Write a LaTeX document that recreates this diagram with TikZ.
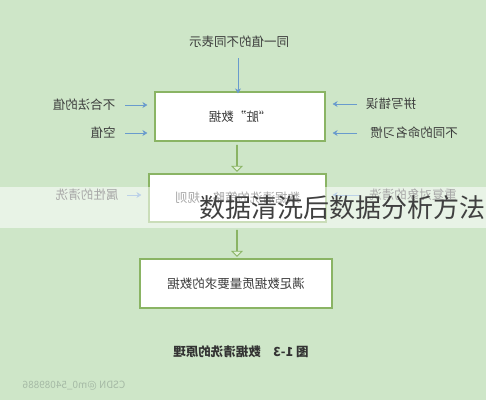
\documentclass[tikz,border=0pt]{standalone}
\usepackage{fontspec}
\newfontfamily\cjk{Noto Sans CJK SC}
\usetikzlibrary{arrows.meta,shapes.arrows,positioning}

\definecolor{bggreen}{RGB}{206,230,200}
\definecolor{boxgreen}{RGB}{138,180,100}
\definecolor{arrowblue}{RGB}{105,155,205}
\definecolor{txtgray}{RGB}{60,60,60}
\definecolor{holfill}{RGB}{225,242,215}
\definecolor{markgray}{RGB}{165,185,165}

% the scan is mirrored, so every printed text is mirrored too
\newcommand{\mirtext}[1]{\reflectbox{#1}}

\tikzset{
  lbl/.style={font=\cjk\fontsize{12.5}{14}\selectfont, text=txtgray, inner sep=0pt},
  box/.style={draw=boxgreen, fill=white, line width=1.2pt, inner sep=0pt,
    font=\cjk\fontsize{12.5}{14}\selectfont, text=txtgray},
  inarrow/.style={-{Stealth[length=5pt,width=6pt]}, arrowblue, line width=1pt},
  holarrow/.style={single arrow, draw=boxgreen, fill=holfill, line width=0.8pt,
    shape border rotate=270, minimum width=9pt, minimum height=26pt,
    single arrow head extend=4.5pt, single arrow tip angle=90, inner sep=0pt}
}

\begin{document}
\begin{tikzpicture}[x=1pt,y=-1pt]
  % background
  \fill[bggreen] (0,0) rectangle (486,400);
  \useasboundingbox (0,0) rectangle (486,400);

  % top input
  \node[lbl] (same) at (239,42) {\mirtext{同一值的不同表示}};
  \coordinate (sametop) at (238,58);

  % boxes
  \node[box, minimum width=170pt, minimum height=49pt] (dirty) at (240,116.5) {\mirtext{“脏”数据}};
  \node[box, minimum width=177pt, minimum height=48pt] (rule) at (237.5,198) {\mirtext{数据清洗的策略、规则}};
  \node[box, minimum width=192pt, minimum height=49pt] (good) at (236,283.5) {\mirtext{满足数据质量要求的数据}};

  \draw[inarrow] (sametop) -- ([yshift=-2pt]dirty.north -| sametop);

  % left inputs
  \node[lbl] (illegal) at (84,105) {\mirtext{不合法的值}};
  \node[lbl] (empty) at (103,133) {\mirtext{空值}};
  \node[lbl] (attr) at (87,195) {\mirtext{属性的清洗}};
  \coordinate (illegalend) at (125,105);
  \coordinate (emptyend) at (125,133);
  \coordinate (attrend) at (127,195);
  \draw[inarrow, shorten >=7pt] (illegalend) -- (illegalend -| dirty.west);
  \draw[inarrow, shorten >=7pt] (emptyend) -- (emptyend -| dirty.west);
  \draw[inarrow, shorten >=7pt] (attrend) -- (attrend -| rule.west);

  % right inputs
  \node[lbl] (spell) at (391,104) {\mirtext{拼写错误}};
  \node[lbl] (naming) at (414,133) {\mirtext{不同的命名习惯}};
  \node[lbl] (dup) at (413,195) {\mirtext{重复对象的清洗}};
  \coordinate (spellend) at (357,104);
  \coordinate (namingend) at (357,133);
  \coordinate (dupend) at (360,195);
  \draw[inarrow, shorten >=7pt] (spellend) -- (spellend -| dirty.east);
  \draw[inarrow, shorten >=7pt] (namingend) -- (namingend -| dirty.east);
  \draw[inarrow, shorten >=6pt] (dupend) -- (dupend -| rule.east);

  % hollow arrows between boxes
  \node[holarrow] (step1) at (237,158) {};
  \node[holarrow] (step2) at (237,243) {};

  % caption and mark
  \node[lbl, font=\cjk\bfseries\fontsize{12.5}{14}\selectfont, text=black!80] (caption) at (241,352) {\mirtext{图 1-3\quad 数据清洗的原理}};
  \node[lbl, font=\cjk\fontsize{10}{12}\selectfont, text=markgray] (mark) at (74,386) {\mirtext{CSDN @m0\_54089886}};

  % overlay band and title
  \fill[white, opacity=0.55] (0,187) rectangle (486,228);
  \node[font=\cjk\fontsize{26}{30}\selectfont, text=black!75, anchor=east, inner sep=0pt] (title) at (486,208) {数据清洗后数据分析方法};
\end{tikzpicture}
\end{document}
